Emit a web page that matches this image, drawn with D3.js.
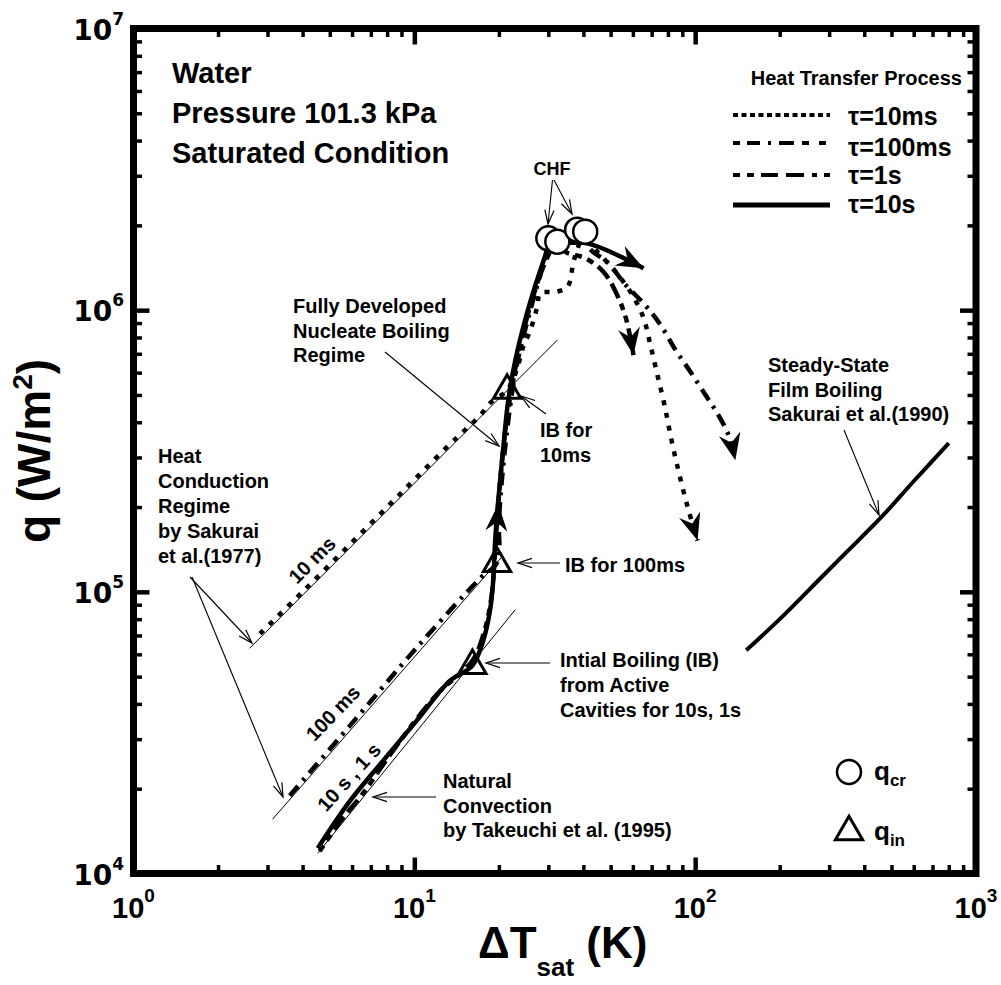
<!DOCTYPE html>
<html><head><meta charset="utf-8">
<script src="https://cdn.jsdelivr.net/npm/d3@7/dist/d3.min.js"></script>
<style>html,body{margin:0;padding:0;background:#fff}svg{display:block}</style>
</head><body>
<svg id="chart" width="1001" height="985"></svg>
<script>
// ---------------- data ----------------
const seriesNames = ["τ=10ms", "τ=100ms", "τ=1s", "τ=10s"];
const xTickExp = ["0", "1", "2", "3"];
const yTickExp = ["4", "5", "6", "7"];

// boiling curves (ΔTsat in K, q in W/m2)
const dT_10ms = [2.82, 4.0, 6.0, 9.0, 13.0, 15.4, 17.2, 18.6, 21.4, 23.3, 24.4, 25.9, 27.4, 28.1, 31.8, 35.1, 36.8, 38.0, 40.6, 42.4, 46.0, 53.3, 59.8, 65.5, 69.3, 73.4, 77.8, 82.4, 88.0, 94.7, 102];
const q_10ms  = [7.1e4, 1.0e5, 1.5e5, 2.25e5, 3.25e5, 3.81e5, 4.24e5, 4.68e5, 5.2e5, 6.28e5, 7.4e5, 8.5e5, 1.03e6, 1.15e6, 1.16e6, 1.21e6, 1.47e6, 1.64e6, 1.9e6, 1.71e6, 1.57e6, 1.33e6, 1.13e6, 9.38e5, 7.52e5, 5.88e5, 4.6e5, 3.45e5, 2.59e5, 1.95e5, 1.52e5];

const dT_100ms = [3.6, 5.9, 10.5, 17.2, 19.7, 20.0, 20.5, 21.4, 22.5, 23.8, 25.9, 28.1, 30.0, 33.1, 38.0, 42.4, 48.7, 56.5, 66.5, 75.3, 85.2, 96.3, 109, 121, 131.5, 139];
const q_100ms  = [1.89e4, 3.35e4, 6.55e4, 1.12e5, 1.27e5, 1.79e5, 2.49e5, 3.75e5, 5.42e5, 7.22e5, 1.0e6, 1.33e6, 1.61e6, 1.78e6, 1.93e6, 1.64e6, 1.48e6, 1.23e6, 1.04e6, 8.86e5, 7.21e5, 6.03e5, 4.99e5, 4.24e5, 3.6e5, 2.93e5];

const dT_1s = [4.6, 5.5, 6.5, 8.0, 10.0, 12.5, 14.5, 16.3, 17.8, 18.8, 19.3, 19.7, 20.3, 21.2, 22.6, 24.3, 26.5, 29.0, 32.3, 34.5, 40.6, 47.1, 52.8, 56.9, 60.3];
const q_1s  = [1.2e4, 1.55e4, 1.9e4, 2.55e4, 3.45e4, 4.5e4, 5.1e4, 5.8e4, 7.3e4, 9.5e4, 1.3e5, 1.8e5, 2.6e5, 3.9e5, 5.8e5, 8.2e5, 1.12e6, 1.45e6, 1.75e6, 1.61e6, 1.53e6, 1.37e6, 1.13e6, 9.23e5, 6.93e5];

const dT_10s = [4.53, 5.9, 7.73, 10.2, 13.4, 16.1, 17.6, 18.6, 19.1, 19.4, 19.9, 20.7, 21.6, 22.9, 24.8, 27.0, 29.3, 30.5, 35, 42, 65.5];
const q_10s  = [1.23e4, 1.81e4, 2.51e4, 3.49e4, 4.84e4, 5.47e4, 6.72e4, 8.59e4, 1.1e5, 1.52e5, 2.11e5, 3.18e5, 4.8e5, 6.65e5, 9.23e5, 1.23e6, 1.57e6, 1.78e6, 1.74e6, 1.72e6, 1.41e6];

// steady-state film boiling, Sakurai et al. (1990)
const dT_film = [152, 200, 280, 350, 460, 600, 800];
const q_film  = [6.2e4, 8.0e4, 1.12e5, 1.40e5, 1.84e5, 2.47e5, 3.37e5];

// heat conduction lines (Sakurai 1977) and natural convection (Takeuchi 1995)
const dT_cond10ms = [2.59, 32.3];   const q_cond10ms = [6.3e4, 7.83e5];
const dT_cond100ms = [3.13, 20.5];  const q_cond100ms = [1.56e4, 1.33e5];
const dT_natconv = [4.53, 22.9];    const q_natconv = [1.18e4, 8.65e4];

// critical heat flux and incipient boiling points
const qcr_dT = [30.0, 32.3, 38.0, 40.6];
const qcr_q  = [1.80e6, 1.75e6, 1.93e6, 1.90e6];
const qin_dT = [16.1, 19.7, 21.4];
const qin_q  = [5.47e4, 1.26e5, 5.19e5];
// direction arrow on the nucleate boiling branch
const flow_dT = [19.9];
const flow_q  = [1.95e5];

// ---------------- chart ----------------
const FONT = "'Liberation Sans', Arial, Helvetica, sans-serif";
const svg = d3.select("#chart");
const L = 133.5, R = 976, T = 28.5, B = 873.5;
const x = d3.scaleLog().domain([1, 1000]).range([L, R]);
const y = d3.scaleLog().domain([1e4, 1e7]).range([B, T]);
const zip = (a, b) => a.map((v, i) => [v, b[i]]);

const defs = svg.append("defs");
defs.append("marker").attr("id", "open").attr("markerUnits", "userSpaceOnUse")
  .attr("viewBox", "-16 -8 18 16").attr("refX", 0).attr("refY", 0)
  .attr("markerWidth", 18).attr("markerHeight", 16).attr("orient", "auto")
  .append("path").attr("d", "M-14,-4.6L0,0L-14,4.6").attr("fill", "none")
  .attr("stroke", "#000").attr("stroke-width", 1.2);
defs.append("marker").attr("id", "big").attr("markerUnits", "userSpaceOnUse")
  .attr("viewBox", "-30 -14 32 28").attr("refX", 0).attr("refY", 0)
  .attr("markerWidth", 32).attr("markerHeight", 28).attr("orient", "auto")
  .append("path").attr("d", "M0,0L-27,-11L-18,0L-27,11Z").attr("fill", "#000");

// ticks via d3 axes
const minorX = [], minorY = [];
for (let d = 1; d < 1000; d *= 10) for (let k = 2; k <= 9; k++) minorX.push(d * k);
for (let d = 1e4; d < 1e7; d *= 10) for (let k = 2; k <= 9; k++) minorY.push(d * k);
const majorX = [1, 10, 100, 1000], majorY = [1e4, 1e5, 1e6, 1e7];
function ticks(axis, tr, vals, size, w) {
  const g = svg.append("g").attr("transform", tr)
    .call(axis.tickValues(vals).tickSizeInner(-size).tickSizeOuter(0).tickFormat(""));
  g.select(".domain").remove();
  g.selectAll(".tick line").attr("stroke", "#000").attr("stroke-width", w);
}
[[minorX, 8.5, 3.5], [majorX, 16, 4.5]].forEach(([v, s, w]) => {
  ticks(d3.axisBottom(x), `translate(0,${B})`, v, s, w);
  ticks(d3.axisTop(x), `translate(0,${T})`, v, s, w);
});
[[minorY, 8.5, 3.5], [majorY, 16, 4.5]].forEach(([v, s, w]) => {
  ticks(d3.axisLeft(y), `translate(${L},0)`, v, s, w);
  ticks(d3.axisRight(y), `translate(${R},0)`, v, s, w);
});
svg.append("rect").attr("x", L).attr("y", T).attr("width", R - L).attr("height", B - T)
  .attr("fill", "none").attr("stroke", "#000").attr("stroke-width", 7);

// tick labels
majorX.forEach((v, i) => {
  const t = svg.append("text").attr("x", x(v)).attr("y", 918).attr("text-anchor", "middle")
    .attr("font-family", FONT).attr("font-weight", "bold").attr("font-size", 29).text("10");
  t.append("tspan").attr("dy", -16).attr("font-size", 19).text(xTickExp[i]);
});
majorY.forEach((v, i) => {
  const t = svg.append("text").attr("x", 124).attr("y", y(v) + 11).attr("text-anchor", "end")
    .attr("font-family", "'DejaVu Sans', sans-serif").attr("font-weight", "bold").attr("font-size", 28).text("10");
  t.append("tspan").attr("dy", -15).attr("font-size", 17).text(yTickExp[i]);
});

// axis titles
{
  const t = svg.append("text").attr("x", (L + R) / 2 + 8).attr("y", 958).attr("text-anchor", "middle")
    .attr("font-family", FONT).attr("font-weight", "bold").attr("font-size", 44).text("ΔT");
  t.append("tspan").attr("dy", 18).attr("font-size", 26).text("sat");
  t.append("tspan").attr("dy", -18).text(" (K)");
  const q = svg.append("text").attr("transform", `translate(50,${(T + B) / 2}) rotate(-90)`)
    .attr("text-anchor", "middle").attr("font-family", FONT).attr("font-weight", "bold")
    .attr("font-size", 46).text("q (W/m");
  q.append("tspan").attr("dy", -18).attr("font-size", 28).text("2");
  q.append("tspan").attr("dy", 18).text(")");
}

// thin reference lines
const lin = d3.line().x(d => x(d[0])).y(d => y(d[1]));
[[dT_cond10ms, q_cond10ms], [dT_cond100ms, q_cond100ms], [dT_natconv, q_natconv]].forEach(([a, b]) =>
  svg.append("path").attr("d", lin(zip(a, b))).attr("fill", "none").attr("stroke", "#000").attr("stroke-width", 1));

// curves
const crv = d3.line().x(d => x(d[0])).y(d => y(d[1])).curve(d3.curveCatmullRom.alpha(0.5));
const plotStyles = [
  {dash: "5,8", w: 4.5},
  {dash: "13,7,3,7", w: 4.5},
  {dash: "7,6,7,6,16,6,16,6", w: 4.5},
  {dash: null, w: 4.5}
];
const curves = [[dT_10ms, q_10ms], [dT_100ms, q_100ms], [dT_1s, q_1s], [dT_10s, q_10s]];
curves.forEach(([a, b], i) => {
  svg.append("path").attr("d", crv(zip(a, b))).attr("fill", "none").attr("stroke", "#000")
    .attr("stroke-width", plotStyles[i].w).attr("stroke-dasharray", plotStyles[i].dash)
    .attr("marker-end", "url(#big)");
});
svg.append("path").attr("d", crv(zip(dT_film, q_film))).attr("fill", "none").attr("stroke", "#000").attr("stroke-width", 4);

// flow direction arrow (points upward along the boiling branch)
flow_dT.forEach((v, i) => {
  svg.append("path").attr("transform", `translate(${x(v)},${y(flow_q[i]) - 6}) rotate(-86)`)
    .attr("d", "M0,0L-27,-11L-18,0L-27,11Z").attr("fill", "#000");
});

// qcr circles, qin triangles
qcr_dT.forEach((v, i) => svg.append("circle").attr("cx", x(v)).attr("cy", y(qcr_q[i])).attr("r", 12)
  .attr("fill", "#fff").attr("stroke", "#000").attr("stroke-width", 2.5));
const tri = d3.symbol(d3.symbolTriangle, 320);
qin_dT.forEach((v, i) => svg.append("path").attr("d", tri()).attr("transform", `translate(${x(v)},${y(qin_q[i])})`)
  .attr("fill", "none").attr("stroke", "#000").attr("stroke-width", 3));

// ---------------- annotations ----------------
function block(px, py, dy, lines, size) {
  const t = svg.append("text").attr("font-family", FONT).attr("font-weight", "bold").attr("font-size", size);
  lines.forEach((s, i) => t.append("tspan").attr("x", px).attr("y", py + i * dy).text(s));
}
function leader(x1, y1, x2, y2) {
  svg.append("line").attr("x1", x1).attr("y1", y1).attr("x2", x2).attr("y2", y2)
    .attr("stroke", "#000").attr("stroke-width", 1.1).attr("marker-end", "url(#open)");
}
block(172, 83, 40, ["Water", "Pressure 101.3 kPa", "Saturated Condition"], 29);
block(293, 313, 24.5, ["Fully Developed", "Nucleate Boiling", "Regime"], 20);
block(158, 463, 25, ["Heat", "Conduction", "Regime", "by Sakurai", "et al.(1977)"], 20);
block(540, 437, 25, ["IB for", "10ms"], 20);
block(565, 572, 25, ["IB for 100ms"], 20);
block(560, 667, 25, ["Intial Boiling (IB)", "from Active", "Cavities for 10s, 1s"], 20);
block(443, 788, 24.5, ["Natural", "Convection", "by Takeuchi et al. (1995)"], 20);
block(768, 372, 24.5, ["Steady-State", "Film Boiling", "Sakurai et al.(1990)"], 20);
svg.append("text").attr("x", 552).attr("y", 175).attr("text-anchor", "middle").attr("font-family", FONT)
  .attr("font-weight", "bold").attr("font-size", 18).text("CHF");

leader(552.5, 180, 548, 224);
leader(554, 180, 572, 214);
leader(385, 352, 499, 446);
leader(546, 414, 521, 396);
leader(560, 563, 518, 563);
leader(550, 663, 486, 663);
leader(436, 797, 373, 797);
leader(844, 430, 879, 515);
leader(190, 577, 252, 643);
leader(192, 577, 283, 797);

function rotLabel(cx, cy, ang, s) {
  svg.append("text").attr("transform", `translate(${cx},${cy}) rotate(${ang})`).attr("text-anchor", "middle")
    .attr("dy", "0.35em").attr("font-family", FONT).attr("font-weight", "bold").attr("font-size", 20).text(s);
}
rotLabel(312, 560, -45, "10 ms");
rotLabel(333, 713, -46, "100 ms");
rotLabel(349, 777, -48, "10 s , 1 s");

// ---------------- legend ----------------
svg.append("text").attr("x", 962).attr("y", 85).attr("text-anchor", "end").attr("font-family", FONT)
  .attr("font-weight", "bold").attr("font-size", 20).text("Heat Transfer Process");
const legRows = [115, 143, 175, 205];
const legBase = [125, 156, 184, 213];
const legStyles = [
  {dash: "5,3.5", w: 4},
  {dash: "7,7,13,8,3,8,15,8,7,10,7,30", w: 4},
  {dash: "7,7,7,7,17,8,18,8,5,7,7,30", w: 4},
  {dash: null, w: 5}
];
seriesNames.forEach((s, i) => {
  svg.append("line").attr("x1", 733).attr("x2", 830).attr("y1", legRows[i]).attr("y2", legRows[i])
    .attr("stroke", "#000").attr("stroke-width", legStyles[i].w).attr("stroke-dasharray", legStyles[i].dash);
  svg.append("text").attr("x", 848).attr("y", legBase[i]).attr("font-family", FONT).attr("font-weight", "bold")
    .attr("font-size", 25).text(s);
});
svg.append("circle").attr("cx", 849).attr("cy", 772).attr("r", 12).attr("fill", "#fff")
  .attr("stroke", "#000").attr("stroke-width", 2.5);
svg.append("path").attr("d", tri()).attr("transform", "translate(849,832)").attr("fill", "none")
  .attr("stroke", "#000").attr("stroke-width", 3);
[[780, "q", "cr"], [840, "q", "in"]].forEach(([yy, a, b]) => {
  const t = svg.append("text").attr("x", 874).attr("y", yy).attr("font-family", FONT).attr("font-weight", "bold")
    .attr("font-size", 26).text(a);
  t.append("tspan").attr("dy", 6).attr("font-size", 17).text(b);
});
</script>
</body></html>
